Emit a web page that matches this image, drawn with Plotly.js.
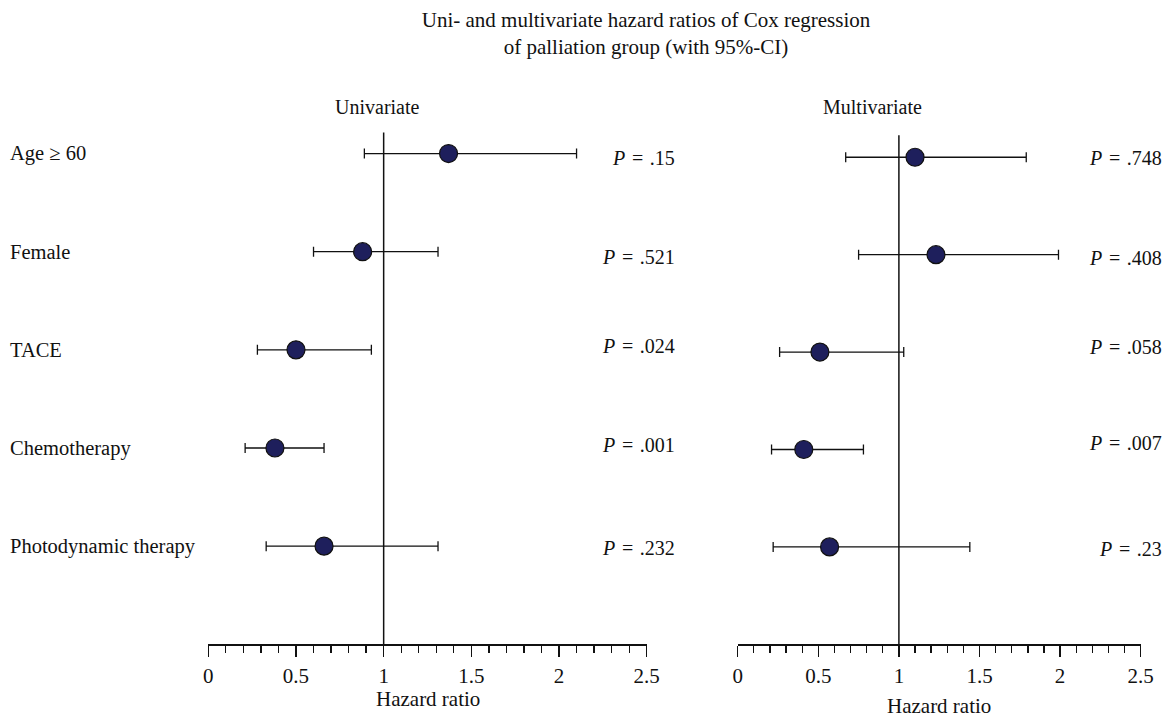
<!DOCTYPE html>
<html><head><meta charset="utf-8">
<script src="https://cdn.plot.ly/plotly-3.0.1.min.js"></script>
<style>body{margin:0;background:#fff}</style>
</head><body><div id="chart" style="width:1171px;height:717px"></div>
<script>
// ---- data ----
const categories = ["Age \u2265 60", "Female", "TACE", "Chemotherapy", "Photodynamic therapy"];
const rowPos = [5, 4, 3, 2, 1];
const uniHR   = [1.37, 0.88, 0.50, 0.38, 0.66];
const uniLow  = [0.89, 0.60, 0.28, 0.21, 0.33];
const uniHigh = [2.10, 1.31, 0.93, 0.66, 1.31];
const uniP    = [".15", ".521", ".024", ".001", ".232"];
const multiHR   = [1.10, 1.23, 0.51, 0.41, 0.57];
const multiLow  = [0.67, 0.75, 0.26, 0.21, 0.22];
const multiHigh = [1.79, 1.99, 1.03, 0.78, 1.44];
const multiP    = [".748", ".408", ".058", ".007", ".23"];
const tickVals = [0, 0.5, 1, 1.5, 2, 2.5];
const tickText = ["0", "0.5", "1", "1.5", "2", "2.5"];
const panelTitles = ["Univariate", "Multivariate"];
const axisTitle = "Hazard ratio";
const chartTitle = "Uni- and multivariate hazard ratios of Cox regression<br>of palliation group (with 95%-CI)";

// ---- style ----
const W = 1171, H = 717;
const FONT = "Liberation Serif, Times New Roman, serif";
const INK = "#111";
const DOT = "#1e1f5c";
const px = v => v / W;
const py = v => 1 - v / H;
const EQ = "\u00a0\u200a=\u200a\u00a0";

function trace(hr, lo, hi, xa, ya) {
  return {
    type: "scatter", mode: "markers", x: hr, y: rowPos, xaxis: xa, yaxis: ya,
    marker: { size: 18, color: DOT, line: { color: INK, width: 1.2 } },
    error_x: { type: "data", symmetric: false,
      array: hi.map((h, i) => h - hr[i]), arrayminus: lo.map((l, i) => hr[i] - l),
      color: INK, thickness: 1.3, width: 5 },
    hoverinfo: "x+y", cliponaxis: false
  };
}

function xaxisDef(domain, anchor) {
  return {
    domain: domain, anchor: anchor, range: [0, 2.5], fixedrange: true,
    showline: true, linecolor: INK, linewidth: 1.3, mirror: false,
    showgrid: false, zeroline: false,
    tickmode: "array", tickvals: tickVals, ticktext: tickText,
    ticks: "outside", ticklen: 11, tickwidth: 1.3, tickcolor: INK,
    ticklabelstandoff: 1,
    tickfont: { family: FONT, size: 21, color: INK },
    minor: { tickmode: "linear", tick0: 0, dtick: 0.1, ticks: "outside", ticklen: 7.5, tickwidth: 1.3, tickcolor: INK, showgrid: false }
  };
}

const yDom = [(H - 644.3) / H, (H - 130) / H];

const annotations = [];
categories.forEach((c, i) => {
  annotations.push({ xref: "paper", yref: "y", x: px(8), y: rowPos[i], xanchor: "left", yanchor: "middle",
    text: c, showarrow: false, font: { family: FONT, size: 20.5, color: INK } });
});
const pShiftL = [-4, -5, 4, 3, -2];
const pShiftR = [-1, -3, 5, 6, -2];
uniP.forEach((p, i) => {
  annotations.push({ xref: "paper", yref: "y", x: px(677), y: rowPos[i], yshift: pShiftL[i], xanchor: "right", yanchor: "middle",
    text: "<i>P</i>" + EQ + p, showarrow: false, font: { family: FONT, size: 20, color: INK } });
});
multiP.forEach((p, i) => {
  annotations.push({ xref: "paper", yref: "y2", x: px(1164), y: rowPos[i], yshift: pShiftR[i], xanchor: "right", yanchor: "middle",
    text: "<i>P</i>" + EQ + p, showarrow: false, font: { family: FONT, size: 20, color: INK } });
});
annotations.push({ xref: "paper", yref: "paper", x: px(377), y: py(107), xanchor: "center", yanchor: "middle",
  text: panelTitles[0], showarrow: false, font: { family: FONT, size: 20, color: INK } });
annotations.push({ xref: "paper", yref: "paper", x: px(872), y: py(107), xanchor: "center", yanchor: "middle",
  text: panelTitles[1], showarrow: false, font: { family: FONT, size: 20, color: INK } });
annotations.push({ xref: "x domain", yref: "paper", x: 0.5, y: py(699), xanchor: "center", yanchor: "middle",
  text: axisTitle, showarrow: false, font: { family: FONT, size: 21, color: INK } });
annotations.push({ xref: "x2 domain", yref: "paper", x: 0.5, y: py(706), xanchor: "center", yanchor: "middle",
  text: axisTitle, showarrow: false, font: { family: FONT, size: 21, color: INK } });

const layout = {
  width: W, height: H, margin: { l: 0, r: 0, t: 0, b: 0 },
  paper_bgcolor: "#fff", plot_bgcolor: "#fff", showlegend: false,
  title: { text: chartTitle, x: px(646), xanchor: "center", xref: "paper", y: py(27), yanchor: "middle", yref: "container",
    font: { family: FONT, size: 21, color: INK } },
  xaxis: xaxisDef([px(208.3), px(646.7)], "y"),
  xaxis2: xaxisDef([px(737.7), px(1140.7)], "y2"),
  yaxis: { domain: yDom, range: [0, 5.24], visible: false, fixedrange: true },
  yaxis2: { domain: yDom, range: [0, 5.28], visible: false, fixedrange: true },
  shapes: [
    { type: "line", xref: "x", yref: "y domain", x0: 1, x1: 1, y0: 0, y1: 0.995, line: { color: INK, width: 1.5 }, layer: "below" },
    { type: "line", xref: "x2", yref: "y2 domain", x0: 1, x1: 1, y0: 0, y1: 0.99, line: { color: INK, width: 1.5 }, layer: "below" }
  ],
  annotations: annotations
};

Plotly.newPlot("chart", [trace(uniHR, uniLow, uniHigh, "x", "y"), trace(multiHR, multiLow, multiHigh, "x2", "y2")], layout,
  { displayModeBar: false, staticPlot: true });
</script>
</body></html>
